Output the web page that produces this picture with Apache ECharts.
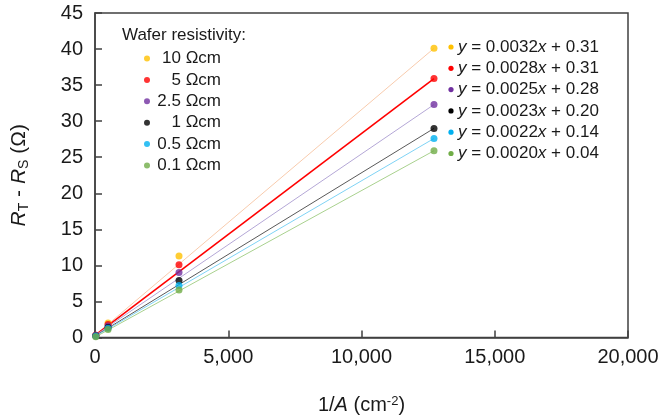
<!DOCTYPE html>
<html>
<head>
<meta charset="utf-8">
<script src="https://cdn.jsdelivr.net/npm/echarts@6/dist/echarts.min.js"></script>
<style>
  html, body { margin: 0; padding: 0; background: #fff; }
  #chart { width: 663px; height: 420px; }
</style>
</head>
<body>
<div id="chart"></div>
<script>
// wafer resistivities and their colours
const names = ['10 Ωcm', '5 Ωcm', '2.5 Ωcm', '1 Ωcm', '0.5 Ωcm', '0.1 Ωcm'];
const dotColors = ['#ffc000', '#ff0000', '#7030a0', '#000000', '#00b0f0', '#70ad47'];
const lineColors = ['#f8cbad', '#ff0000', '#b4a7d6', '#595959', '#7fd3f5', '#a9d18e'];

// 1/A (cm^-2) of the measured pads
const invArea = [30, 490, 3152, 12720];

// R_T - R_S (ohm) per resistivity, one value per pad
const rt10 = [0.3, 2.0, 11.3, 40.1];
const rt5 = [0.3, 1.8, 10.1, 35.9];
const rt25 = [0.3, 1.6, 9.0, 32.3];
const rt1 = [0.2, 1.4, 7.9, 29.0];
const rt05 = [0.2, 1.3, 7.2, 27.6];
const rt01 = [0.1, 1.1, 6.6, 25.9];
const values = [rt10, rt5, rt25, rt1, rt05, rt01];

// linear fits shown on the right
const slopes = [0.0032, 0.0028, 0.0025, 0.0023, 0.0022, 0.0020];
const intercepts = [0.31, 0.31, 0.28, 0.20, 0.14, 0.04];

const xTicks = [0, 5000, 10000, 15000, 20000];

const font = '"Liberation Sans", Arial, sans-serif';
const chart = echarts.init(document.getElementById('chart'));

const series = [];
names.forEach((name, i) => {
    const pts = invArea.map((x, j) => [x, values[i][j]]);
    // trend line from the intercept to the last pad
    series.push({
        name: name + ' fit',
        type: 'line',
        data: [[0, intercepts[i]], pts[pts.length - 1]],
        showSymbol: false,
        silent: true,
        lineStyle: { color: lineColors[i], width: i === 1 ? 1.6 : 1 },
        z: 2
    });
    series.push({
        name: name,
        type: 'scatter',
        data: pts,
        symbolSize: 7,
        itemStyle: { color: dotColors[i] },
        z: 3
    });
});

// equation labels, built from the fit arrays
const eqGraphics = [];
slopes.forEach((s, i) => {
    const y = 47 + i * 21.3;
    eqGraphics.push({
        type: 'circle',
        shape: { cx: 451, cy: y, r: 2.6 },
        style: { fill: dotColors[i] }
    });
    eqGraphics.push({
        type: 'text',
        x: 458,
        y: y,
        style: {
            text: '{i|y} = ' + s.toFixed(4) + '{i|x} + ' + intercepts[i].toFixed(2),
            fontSize: 17,
            fontFamily: font,
            fill: '#1a1a1a',
            verticalAlign: 'middle',
            rich: { i: { fontStyle: 'italic', fontSize: 17, fontFamily: font, fill: '#1a1a1a' } }
        }
    });
});

chart.setOption({
    animation: false,
    grid: {
        left: 95, right: 35, top: 13, bottom: 80,
        show: true, borderColor: '#404040', borderWidth: 1.5
    },
    legend: {
        data: names,
        orient: 'vertical',
        left: 139,
        top: 45,
        icon: 'circle',
        itemWidth: 6,
        itemHeight: 6,
        itemGap: 4.4,
        selectedMode: false,
        formatter: n => '{a|' + n + '}',
        textStyle: {
            fontFamily: font,
            fontSize: 17,
            color: '#1a1a1a',
            rich: { a: { width: 66, align: 'right', fontSize: 17, lineHeight: 17, fontFamily: font, color: '#1a1a1a' } }
        }
    },
    graphic: [
        {
            type: 'text',
            x: 122,
            y: 35,
            style: {
                text: 'Wafer resistivity:',
                fontSize: 17,
                fontFamily: font,
                fill: '#1a1a1a',
                verticalAlign: 'middle'
            }
        }
    ].concat(eqGraphics),
    xAxis: {
        type: 'value',
        min: xTicks[0],
        max: xTicks[xTicks.length - 1],
        interval: 5000,
        name: '{i|1/}{b|A}{i| (cm}{s|-2}{i|)}',
        nameLocation: 'middle',
        nameGap: 57,
        nameTextStyle: {
            rich: {
                i: { fontSize: 20, fontFamily: font, color: '#1a1a1a' },
                b: { fontSize: 20, fontFamily: font, color: '#1a1a1a', fontStyle: 'italic' },
                s: { fontSize: 13, fontFamily: font, color: '#1a1a1a', verticalAlign: 'top', padding: [0, 0, 8, 0] }
            }
        },
        axisLine: { lineStyle: { color: '#404040', width: 1.5 } },
        axisTick: { inside: true, length: 7, lineStyle: { color: '#404040', width: 1.5 } },
        splitLine: { show: false },
        axisLabel: {
            fontSize: 20,
            fontFamily: font,
            color: '#1a1a1a',
            margin: 10,
            formatter: v => v.toLocaleString('en-US')
        }
    },
    yAxis: {
        type: 'value',
        min: 0,
        max: 45,
        interval: 5,
        name: '{b|R}{s|T}{i| - }{b|R}{s|S}{i| (Ω)}',
        nameLocation: 'middle',
        nameGap: 64,
        nameTextStyle: {
            rich: {
                i: { fontSize: 21, fontFamily: font, color: '#1a1a1a' },
                b: { fontSize: 21, fontFamily: font, color: '#1a1a1a', fontStyle: 'italic' },
                s: { fontSize: 14, fontFamily: font, color: '#1a1a1a', padding: [10, 0, 0, 0] }
            }
        },
        axisLine: { show: true, lineStyle: { color: '#404040', width: 1.5 } },
        axisTick: { inside: true, length: 7, lineStyle: { color: '#404040', width: 1.5 } },
        splitLine: { show: false },
        axisLabel: { fontSize: 20, fontFamily: font, color: '#1a1a1a', margin: 12 }
    },
    series: series
});
</script>
</body>
</html>
